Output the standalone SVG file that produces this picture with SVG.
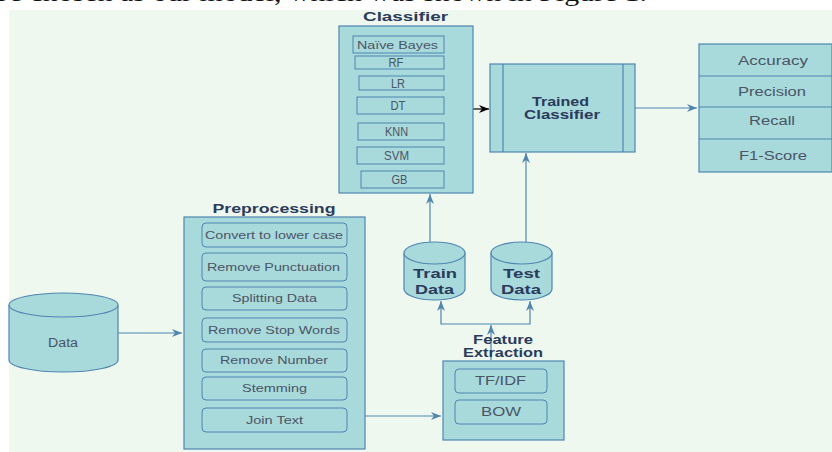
<svg xmlns="http://www.w3.org/2000/svg" width="832" height="452" viewBox="0 0 832 452">
<defs>
<style>
.box{fill:#a8d9db;stroke:#4f86b0;stroke-width:1.2}
.ibox{fill:#a8d9db;stroke:#4f86b0;stroke-width:1}
text{text-anchor:middle}
.title{font-family:"Liberation Sans",Arial,sans-serif;font-weight:bold;fill:#2a3b5b}
.lbl{font-family:"Liberation Sans",Arial,sans-serif;fill:#4a5565;font-size:11px}
.clbl{font-family:"Liberation Sans",Arial,sans-serif;fill:#4a5565;font-size:12px}
.conn{fill:none;stroke:#4f86b0;stroke-width:1.2}
</style>
<marker id="ab" markerUnits="userSpaceOnUse" markerWidth="11" markerHeight="9" refX="10" refY="4" orient="auto">
<path d="M0,0 L10,4 L0,8 L3,4 z" fill="#4f86b0"/>
</marker>
<marker id="ak" markerUnits="userSpaceOnUse" markerWidth="11" markerHeight="9" refX="10" refY="4" orient="auto">
<path d="M0,0 L10,4 L0,8 L3,4 z" fill="#000"/>
</marker>
</defs>
<rect x="0" y="0" width="832" height="452" fill="#ffffff"/>
<rect x="9" y="10" width="823" height="442" fill="#eff8ee"/>
<text x="-6" y="1" font-family="'Liberation Serif',serif" font-size="24" fill="#111" style="text-anchor:start" textLength="653" lengthAdjust="spacingAndGlyphs">be chosen as our model, which was shown in Figure 1.</text>

<g id="connectors">
<path class="conn" d="M118,333 L182,333" marker-end="url(#ab)"/>
<path class="conn" d="M365,416 L441,416" marker-end="url(#ab)"/>
<path class="conn" d="M491,360 L491,325" marker-end="url(#ab)"/>
<path class="conn" d="M491,324 L441,324 L441,301" marker-end="url(#ab)"/>
<path class="conn" d="M491,324 L530,324 L530,301" marker-end="url(#ab)"/>
<path class="conn" d="M430,242 L430,194" marker-end="url(#ab)"/>
<path class="conn" d="M526,242 L526,153" marker-end="url(#ab)"/>
<path d="M473,109 L489,109" fill="none" stroke="#000" stroke-width="1.2" marker-end="url(#ak)"/>
<path class="conn" d="M635,108 L697,108" marker-end="url(#ab)"/>
</g>

<g id="classifier">
<text class="title" x="405.5" y="21" font-size="13" textLength="85" lengthAdjust="spacingAndGlyphs">Classifier</text>
<rect class="box" x="339" y="26" width="134" height="167"/>
<rect class="ibox" x="353" y="36" width="91" height="17"/>
<text class="lbl" x="397.5" y="48.5" textLength="81" lengthAdjust="spacingAndGlyphs">Naïve Bayes</text>
<rect class="ibox" x="355" y="56" width="89" height="13"/>
<text class="clbl" x="396" y="66.5" textLength="15" lengthAdjust="spacingAndGlyphs">RF</text>
<rect class="ibox" x="359" y="76" width="85" height="14"/>
<text class="clbl" x="398" y="87.5" textLength="14" lengthAdjust="spacingAndGlyphs">LR</text>
<rect class="ibox" x="357" y="97" width="87" height="17"/>
<text class="clbl" x="398" y="110" textLength="15" lengthAdjust="spacingAndGlyphs">DT</text>
<rect class="ibox" x="358" y="123" width="86" height="17"/>
<text class="clbl" x="396.5" y="136" textLength="23" lengthAdjust="spacingAndGlyphs">KNN</text>
<rect class="ibox" x="357" y="147" width="87" height="17"/>
<text class="clbl" x="396.5" y="160" textLength="25" lengthAdjust="spacingAndGlyphs">SVM</text>
<rect class="ibox" x="361" y="171" width="83" height="17"/>
<text class="clbl" x="399.5" y="184" textLength="16" lengthAdjust="spacingAndGlyphs">GB</text>
</g>

<g id="trained-classifier">
<rect class="box" x="490" y="64" width="145" height="88"/>
<line x1="503" y1="64" x2="503" y2="152" stroke="#4f86b0" stroke-width="1.2"/>
<line x1="623" y1="64" x2="623" y2="152" stroke="#4f86b0" stroke-width="1.2"/>
<text class="title" x="560.5" y="106" font-size="12" textLength="57" lengthAdjust="spacingAndGlyphs">Trained</text>
<text class="title" x="562" y="119" font-size="12" textLength="76" lengthAdjust="spacingAndGlyphs">Classifier</text>
</g>

<g id="metrics">
<rect class="box" x="699" y="44" width="133" height="128"/>
<line x1="699" y1="76" x2="832" y2="76" stroke="#4f86b0" stroke-width="1"/>
<line x1="699" y1="107" x2="832" y2="107" stroke="#4f86b0" stroke-width="1"/>
<line x1="699" y1="139" x2="832" y2="139" stroke="#4f86b0" stroke-width="1"/>
<text class="lbl" x="773" y="65" style="font-size:12px" textLength="70" lengthAdjust="spacingAndGlyphs">Accuracy</text>
<text class="lbl" x="772" y="96" style="font-size:12px" textLength="68" lengthAdjust="spacingAndGlyphs">Precision</text>
<text class="lbl" x="772" y="125" style="font-size:12px" textLength="46" lengthAdjust="spacingAndGlyphs">Recall</text>
<text class="lbl" x="773" y="160" style="font-size:12px" textLength="68" lengthAdjust="spacingAndGlyphs">F1-Score</text>
</g>

<g id="preprocessing">
<text class="title" x="274" y="213" font-size="13" textLength="123" lengthAdjust="spacingAndGlyphs">Preprocessing</text>
<rect class="box" x="184" y="217" width="181" height="232"/>
<rect class="ibox" x="202" y="223" width="145" height="24" rx="4"/>
<text class="lbl" x="274" y="239" textLength="138" lengthAdjust="spacingAndGlyphs">Convert to lower case</text>
<rect class="ibox" x="202" y="253" width="145" height="28" rx="4"/>
<text class="lbl" x="273.5" y="271" textLength="133" lengthAdjust="spacingAndGlyphs">Remove Punctuation</text>
<rect class="ibox" x="202" y="287" width="145" height="23" rx="4"/>
<text class="lbl" x="274.5" y="302" textLength="85" lengthAdjust="spacingAndGlyphs">Splitting Data</text>
<rect class="ibox" x="202" y="318" width="145" height="24" rx="4"/>
<text class="lbl" x="274" y="334" textLength="132" lengthAdjust="spacingAndGlyphs">Remove Stop Words</text>
<rect class="ibox" x="202" y="349" width="145" height="23" rx="4"/>
<text class="lbl" x="274" y="364" textLength="108" lengthAdjust="spacingAndGlyphs">Remove Number</text>
<rect class="ibox" x="202" y="377" width="145" height="23" rx="4"/>
<text class="lbl" x="274.5" y="392" textLength="65" lengthAdjust="spacingAndGlyphs">Stemming</text>
<rect class="ibox" x="202" y="408" width="145" height="24" rx="4"/>
<text class="lbl" x="274.5" y="424" textLength="57" lengthAdjust="spacingAndGlyphs">Join Text</text>
</g>

<g id="data">
<path class="box" d="M9,305 A54.5,12 0 0 1 118,305 L118,360 A54.5,12 0 0 1 9,360 Z"/>
<path class="box" d="M9,305 A54.5,12 0 0 0 118,305"/>
<text class="lbl" x="63" y="347" style="font-size:12px" textLength="30" lengthAdjust="spacingAndGlyphs">Data</text>
</g>

<g id="train-data">
<path class="box" d="M404,253 A30.5,11 0 0 1 465,253 L465,289 A30.5,11 0 0 1 404,289 Z"/>
<path class="box" d="M404,253 A30.5,11 0 0 0 465,253"/>
<text class="title" x="435" y="278" font-size="13.5" textLength="44" lengthAdjust="spacingAndGlyphs">Train</text>
<text class="title" x="434.5" y="294" font-size="13.5" textLength="39" lengthAdjust="spacingAndGlyphs">Data</text>
</g>

<g id="test-data">
<path class="box" d="M491,253 A30.5,11 0 0 1 552,253 L552,289 A30.5,11 0 0 1 491,289 Z"/>
<path class="box" d="M491,253 A30.5,11 0 0 0 552,253"/>
<text class="title" x="521.5" y="278" font-size="13.5" textLength="37" lengthAdjust="spacingAndGlyphs">Test</text>
<text class="title" x="521" y="294" font-size="13.5" textLength="40" lengthAdjust="spacingAndGlyphs">Data</text>
</g>

<g id="feature-extraction">
<text class="title" x="503" y="344" font-size="12.5" textLength="60" lengthAdjust="spacingAndGlyphs">Feature</text>
<text class="title" x="503" y="357" font-size="12.5" textLength="80" lengthAdjust="spacingAndGlyphs">Extraction</text>
<rect class="box" x="443" y="361" width="121" height="79"/>
<rect class="ibox" x="455" y="369" width="92" height="24" rx="4"/>
<text class="lbl" x="500.5" y="385" style="font-size:12px" textLength="51" lengthAdjust="spacingAndGlyphs">TF/IDF</text>
<rect class="ibox" x="455" y="400" width="92" height="24" rx="4"/>
<text class="lbl" x="501" y="416" style="font-size:12px" textLength="40" lengthAdjust="spacingAndGlyphs">BOW</text>
</g>
</svg>
